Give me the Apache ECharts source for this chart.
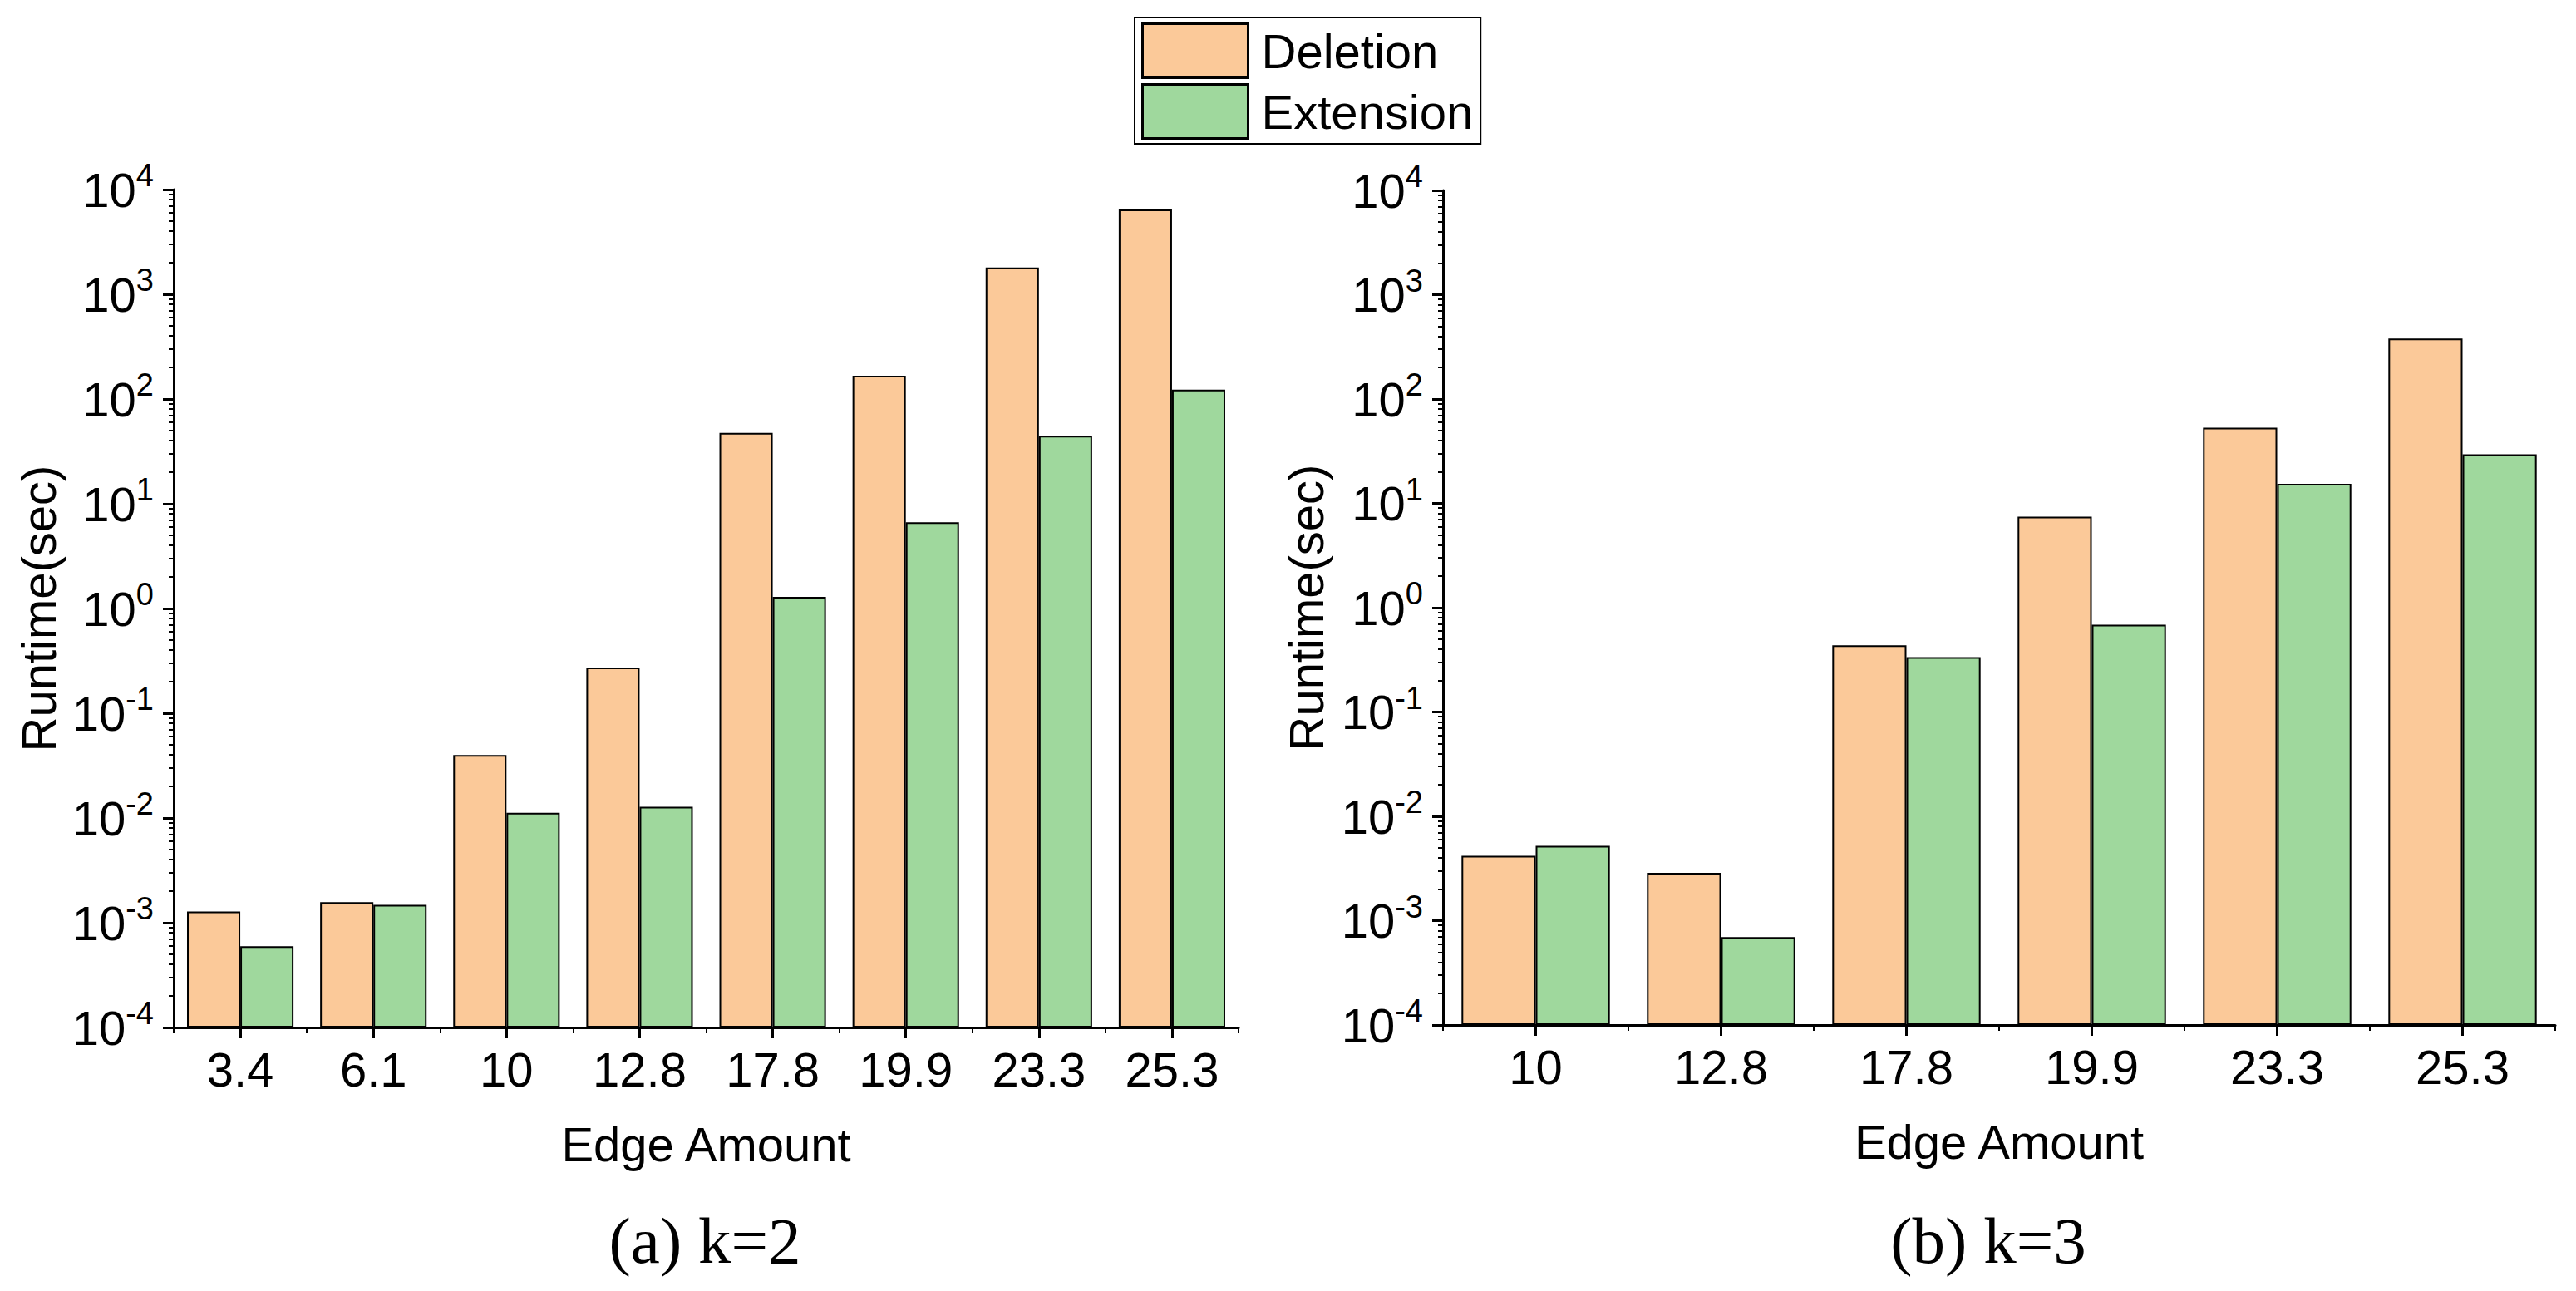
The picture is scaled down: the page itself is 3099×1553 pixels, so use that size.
<!DOCTYPE html>
<html>
<head>
<meta charset="utf-8">
<script src="https://cdn.jsdelivr.net/npm/echarts@6/dist/echarts.min.js"></script>
<style>
html,body{margin:0;padding:0;background:#ffffff;}
#chart{width:3099px;height:1553px;}
</style>
</head>
<body>
<div id="chart"></div>
<script>
// ---- data ----
const categoriesK2 = ['3.4', '6.1', '10', '12.8', '17.8', '19.9', '23.3', '25.3'];
const deletionK2   = [1.28e-3, 1.57e-3, 0.040, 0.273, 47.4, 167, 1800, 6440];
const extensionK2  = [5.98e-4, 1.48e-3, 0.0112, 0.0128, 1.29, 6.67, 44.6, 123];

const categoriesK3 = ['10', '12.8', '17.8', '19.9', '23.3', '25.3'];
const deletionK3   = [4.19e-3, 2.87e-3, 0.435, 7.45, 53.2, 380];
const extensionK3  = [5.22e-3, 6.97e-4, 0.336, 0.687, 15.4, 29.5];

const seriesNames = ['Deletion', 'Extension'];
const captions = ['(a) k=2', '(b) k=3'];
const xAxisName = 'Edge Amount';
const yAxisName = 'Runtime(sec)';
const yMin = 1e-4;
const yMax = 1e4;

// ---- styling ----
const SANS = '"Liberation Sans", Arial, sans-serif';
const SERIF = '"Liberation Serif", "Times New Roman", serif';
const COLORS = ['#FBC999', '#9FD89D'];
const grids = [
  { left: 209, top: 228, width: 1281, height: 1008 },
  { left: 1736, top: 229, width: 1338, height: 1004 }
];
const captionX = [848, 2392];

function xAxesFor(gridIndex, cats) {
  return [
    {
      type: 'category', gridIndex: gridIndex, data: cats, boundaryGap: true,
      axisLine: { show: true, lineStyle: { color: '#000', width: 3 } },
      axisTick: { show: true, alignWithLabel: true, length: 13, lineStyle: { color: '#000', width: 3 } },
      axisLabel: { margin: 21, fontSize: 58, color: '#000', fontFamily: SANS, interval: 0 },
      splitLine: { show: false },
      name: xAxisName, nameLocation: 'middle', nameGap: 111,
      nameTextStyle: { fontSize: 58, color: '#000', fontFamily: SANS }
    },
    {
      type: 'category', gridIndex: gridIndex, data: cats, boundaryGap: true, position: 'bottom',
      axisLine: { show: false },
      axisTick: { show: true, alignWithLabel: false, interval: 0, length: 7, lineStyle: { color: '#000', width: 2 } },
      axisLabel: { show: false },
      splitLine: { show: false }
    }
  ];
}

function yAxisFor(gridIndex, gap) {
  return {
    type: 'log', logBase: 10, gridIndex: gridIndex, min: yMin, max: yMax, startValue: yMin,
    axisLine: { show: true, lineStyle: { color: '#000', width: 3 } },
    axisTick: { show: true, length: 13, lineStyle: { color: '#000', width: 3 } },
    minorTick: { show: true, splitNumber: 9, length: 6, lineStyle: { color: '#000', width: 2 } },
    splitLine: { show: false },
    minorSplitLine: { show: false },
    axisLabel: {
      margin: 24, color: '#000',
      formatter: function (v) {
        const e = Math.round(Math.log10(v));
        return '{b|10}{s|' + e + '}';
      },
      rich: {
        b: { fontSize: 58, lineHeight: 72, fontFamily: SANS, color: '#000' },
        s: { fontSize: 38, lineHeight: 38, fontFamily: SANS, color: '#000', verticalAlign: 'top' }
      }
    },
    name: yAxisName, nameLocation: 'middle', nameGap: gap,
    nameTextStyle: { fontSize: 58, color: '#000', fontFamily: SANS }
  };
}

function barSeries(name, data, xIdx, yIdx, colorIdx) {
  return {
    type: 'bar', name: name, data: data, xAxisIndex: xIdx, yAxisIndex: yIdx,
    barWidth: '40%', barGap: '0%',
    itemStyle: { color: COLORS[colorIdx], borderColor: '#000', borderWidth: 2 },
    emphasis: { disabled: true }
  };
}

const chart = echarts.init(document.getElementById('chart'), null, { renderer: 'svg' });
chart.setOption({
  backgroundColor: '#ffffff',
  animation: false,
  title: captions.map(function (t, i) {
    return {
      text: t, left: captionX[i], top: 1453, textAlign: 'center', padding: 0,
      textStyle: { fontSize: 79, fontWeight: 'normal', color: '#000', fontFamily: SERIF }
    };
  }),
  legend: {
    data: seriesNames, orient: 'vertical', left: 1365, top: 21,
    itemWidth: 127, itemHeight: 65, itemGap: 5,
    padding: [6, 9, 5, 8],
    borderColor: '#000', borderWidth: 2,
    icon: 'rect',
    itemStyle: { borderColor: '#000', borderWidth: 3 },
    textStyle: { fontSize: 58, color: '#000', fontFamily: SANS, padding: [0, 0, 0, 11] },
    selectedMode: false
  },
  grid: grids.map(function (g) { return Object.assign({ containLabel: false }, g); }),
  xAxis: xAxesFor(0, categoriesK2).concat(xAxesFor(1, categoriesK3)),
  yAxis: [yAxisFor(0, 134), yAxisFor(1, 136)],
  series: [
    barSeries(seriesNames[0], deletionK2, 0, 0, 0),
    barSeries(seriesNames[1], extensionK2, 0, 0, 1),
    barSeries(seriesNames[0], deletionK3, 2, 1, 0),
    barSeries(seriesNames[1], extensionK3, 2, 1, 1)
  ]
});
</script>
</body>
</html>
